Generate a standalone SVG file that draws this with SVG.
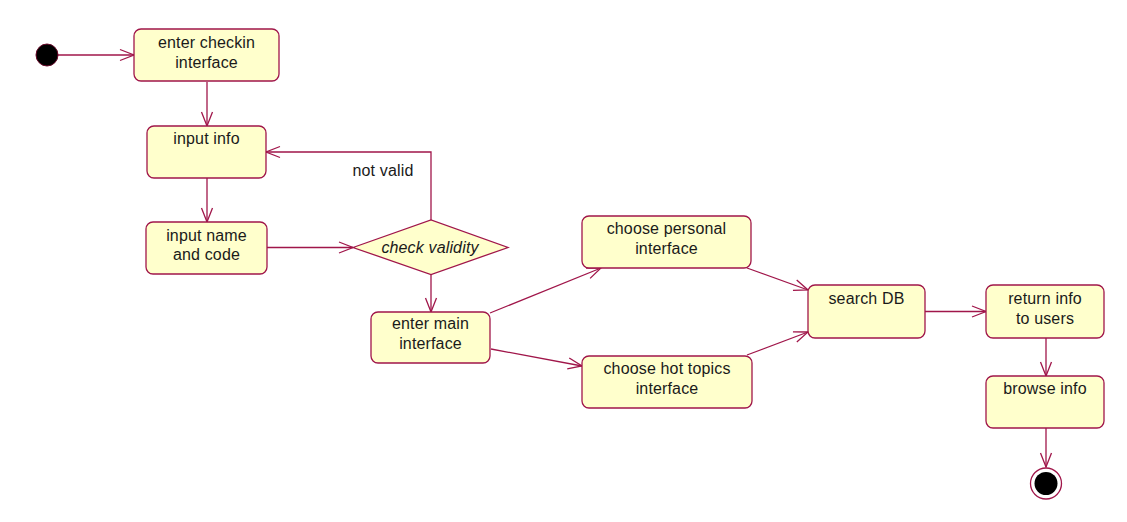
<svg xmlns="http://www.w3.org/2000/svg" width="1127" height="522" viewBox="0 0 1127 522">
<defs>
<style>
.node rect{fill:#FFFFCC;stroke:#A0164A;stroke-width:1.3}
.node polygon{fill:#FFFFCC;stroke:#A0164A;stroke-width:1.3}
text{font-family:"Liberation Sans",Arial,sans-serif;font-size:16px;letter-spacing:0.15px;fill:#1a1a1a;text-anchor:middle}
.conn line,.conn polyline{fill:none;stroke:#A0164A;stroke-width:1.3}
.conn line,.conn polyline{marker-end:url(#arr)}
</style>
<marker id="arr" markerUnits="userSpaceOnUse" markerWidth="18" markerHeight="14" refX="15" refY="7" orient="auto">
<path d="M1,1.5 L15,7 L1,12.5" fill="none" stroke="#A0164A" stroke-width="1.3"/>
</marker>
</defs>
<rect width="1127" height="522" fill="#ffffff"/>
<g class="conn">
<line x1="58" y1="55" x2="134" y2="55"/>
<line x1="207" y1="82" x2="207" y2="126"/>
<line x1="207" y1="178" x2="207" y2="222"/>
<line x1="267" y1="247.5" x2="353" y2="247.5"/>
<polyline points="431,220 431,152 266,152"/>
<line x1="431" y1="274.5" x2="431" y2="312"/>
<line x1="490" y1="313" x2="601" y2="268"/>
<line x1="491" y1="349" x2="582" y2="366"/>
<line x1="747" y1="268" x2="808" y2="290"/>
<line x1="747" y1="355" x2="808" y2="332"/>
<line x1="925" y1="311.5" x2="986" y2="311.5"/>
<line x1="1046" y1="338" x2="1046" y2="376"/>
<line x1="1046" y1="428" x2="1046" y2="467"/>
</g>
<g id="start" class="node"><circle cx="47" cy="55" r="11" fill="#000" stroke="#6a0a2a" stroke-width="1"/></g>
<g id="enter-checkin" class="node"><rect x="134" y="29" width="145" height="52" rx="7"/><text x="206.5" y="48">enter checkin</text><text x="206.5" y="67.5">interface</text></g>
<g id="input-info" class="node"><rect x="147" y="126" width="119" height="52" rx="7"/><text x="206.5" y="144">input info</text></g>
<g id="input-name" class="node"><rect x="146" y="222" width="121" height="52" rx="7"/><text x="206.5" y="240.5">input name</text><text x="206.5" y="260">and code</text></g>
<g id="check-validity" class="node"><polygon points="353,247.5 431,220 508,247.5 431,274.5"/><text x="430" y="253" font-style="italic">check validity</text></g>
<text x="383" y="176">not valid</text>
<g id="enter-main" class="node"><rect x="371" y="312" width="119" height="51" rx="7"/><text x="430.5" y="329">enter main</text><text x="430.5" y="349">interface</text></g>
<g id="choose-personal" class="node"><rect x="582" y="216" width="169" height="52" rx="7"/><text x="666.5" y="234">choose personal</text><text x="666.5" y="254">interface</text></g>
<g id="choose-hot" class="node"><rect x="582" y="356" width="170" height="52" rx="7"/><text x="667" y="374">choose hot topics</text><text x="667" y="394">interface</text></g>
<g id="search-db" class="node"><rect x="808" y="285" width="117" height="53" rx="7"/><text x="866.5" y="304">search DB</text></g>
<g id="return-info" class="node"><rect x="986" y="285" width="118" height="53" rx="7"/><text x="1045" y="304">return info</text><text x="1045" y="324">to users</text></g>
<g id="browse-info" class="node"><rect x="986" y="376" width="118" height="52" rx="7"/><text x="1045" y="394">browse info</text></g>
<g id="end" class="node"><circle cx="1046" cy="483.5" r="15.5" fill="#fff" stroke="#A0164A" stroke-width="1.3"/><circle cx="1046" cy="483.5" r="11.5" fill="#000"/></g>
</svg>
